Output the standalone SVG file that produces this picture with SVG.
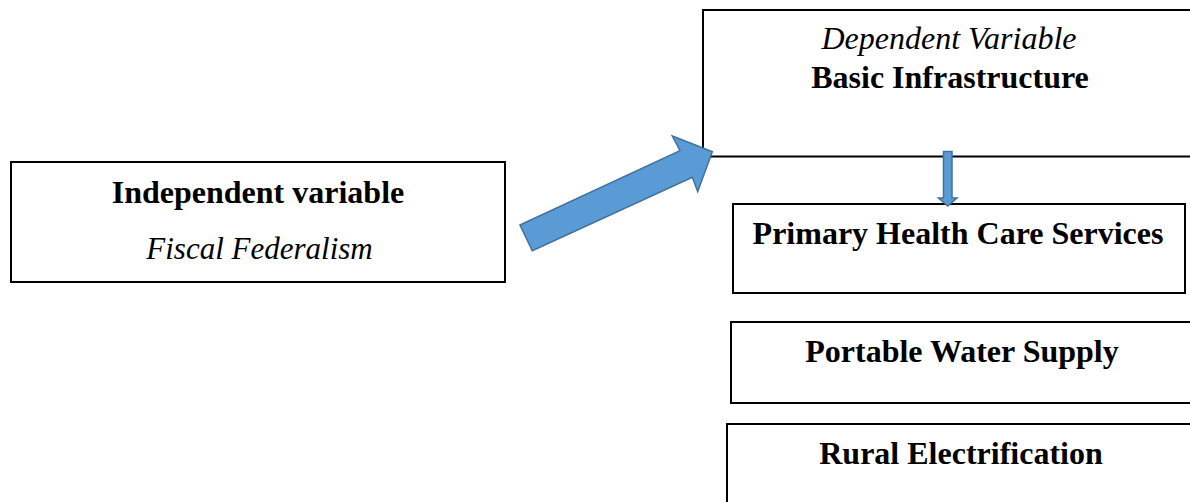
<svg xmlns="http://www.w3.org/2000/svg" width="1190" height="502" viewBox="0 0 1190 502">
<style>
.box{fill:#fff;stroke:#000;stroke-width:2}
.t{font-family:"Liberation Serif","Times New Roman",serif;font-size:32px;text-anchor:middle;fill:#000}
.b{font-weight:bold}
.i{font-style:italic}
.arr{fill:#5B9BD5;stroke:#41719C;stroke-width:1.5;stroke-linejoin:miter}
</style>
<rect width="1190" height="502" fill="#fff"/>
<g id="independent">
<rect class="box" x="11" y="162" width="494" height="120"/>
<text class="t b" x="258" y="203">Independent variable</text>
<text class="t i" x="259.5" y="259" style="font-size:31px">Fiscal Federalism</text>
</g>
<g id="dependent">
<rect class="box" x="703" y="10" width="500" height="146.5"/>
<text class="t i" x="949" y="49">Dependent Variable</text>
<text class="t b" x="950" y="88">Basic Infrastructure</text>
</g>
<g id="health">
<rect class="box" x="733" y="204" width="452" height="89"/>
<text class="t b" x="958" y="244">Primary Health Care Services</text>
</g>
<g id="water">
<rect class="box" x="731" y="322" width="470" height="81"/>
<text class="t b" x="962" y="362">Portable Water Supply</text>
</g>
<g id="electric">
<rect class="box" x="727" y="424" width="470" height="90"/>
<text class="t b" x="961" y="464">Rural Electrification</text>
</g>
<g id="connectors">
<polygon class="arr" points="520,225 680,150.7 672.3,136 712.3,151.7 697.7,191.7 692.3,177.3 532.3,250.7"/>
<polygon class="arr" points="943.5,151.5 952,151.5 952,198 957,198 947.75,206 938.5,198 943.5,198"/>
</g>
</svg>
